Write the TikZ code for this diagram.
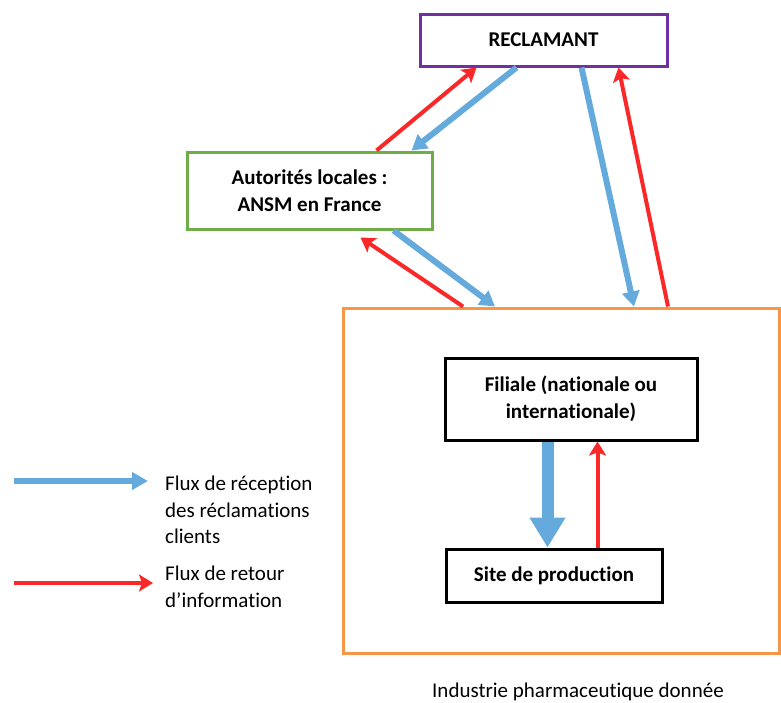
\documentclass[tikz,border=0pt]{standalone}
\usepackage{fontspec}
\setmainfont[Ligatures={NoCommon}]{Carlito}
\usetikzlibrary{arrows.meta}
\definecolor{cpurple}{RGB}{112,48,160}
\definecolor{cgreen}{RGB}{112,173,71}
\definecolor{corange}{RGB}{247,150,70}
\definecolor{cblue}{RGB}{100,170,220}
\definecolor{cred}{RGB}{250,40,40}
\begin{document}
\begin{tikzpicture}[x=1pt,y=-1pt,
  box/.style={draw,line width=3pt,inner sep=0pt,align=center,font=\fontsize{21}{27}\selectfont\bfseries},
  bluearrow/.style={cblue,line width=6pt,-{Triangle[width=17pt,length=15pt]}},
  redarrow/.style={cred,line width=4pt,-{Stealth[width=17pt,length=14pt,inset=3pt]}},
  txt/.style={inner sep=0pt,anchor=base west,font=\fontsize{21}{27}\selectfont}]
\useasboundingbox (0,0) rectangle (781,702);
\node[box,draw=cpurple,minimum width=247pt,minimum height=52pt] (recl) at (543.5,40) {RECLAMANT};
\node[box,draw=cgreen,minimum width=245pt,minimum height=77pt] (auto) at (309.5,190.5) {Autorités locales :\\ANSM en France};
\node[box,draw=corange,minimum width=436pt,minimum height=345pt] (ind) at (561.5,480.5) {};
\node[box,draw=black,minimum width=252pt,minimum height=82pt] (fil) at (571,399) {Filiale (nationale ou\\internationale)};
\node[box,draw=black,minimum width=216pt,minimum height=53pt] (site) at (554,575.5) {Site de production};
% connector end points
\coordinate (a1) at ([xshift=191pt]auto.north west);
\coordinate (r1) at ([xshift=58pt]recl.south west);
\coordinate (r2) at ([xshift=98pt]recl.south west);
\coordinate (a2) at ([xshift=226pt]auto.north west);
\coordinate (i1) at ([xshift=121pt]ind.north west);
\coordinate (a3) at ([xshift=175pt,yshift=-7pt]auto.south west);
\coordinate (a4) at ([xshift=208pt]auto.south west);
\coordinate (i2) at ([xshift=153pt]ind.north west);
\coordinate (r3) at ([xshift=163pt]recl.south west);
\coordinate (i3) at ([xshift=292pt]ind.north west);
\coordinate (i4) at ([xshift=326pt]ind.north west);
\coordinate (r4) at ([xshift=200pt]recl.south west);
\coordinate (f1) at ([xshift=104pt]fil.south west);
\coordinate (s1) at ([xshift=103pt]site.north west);
\coordinate (s2) at ([xshift=153pt]site.north west);
\coordinate (f2) at ([xshift=154pt]fil.south west);
\draw[redarrow] (a1) -- (r1);
\draw[bluearrow] (r2) -- (a2);
\draw[redarrow] (i1) -- (a3);
\draw[bluearrow] (a4) -- (i2);
\draw[bluearrow] (r3) -- (i3);
\draw[redarrow] (i4) -- (r4);
\draw[cblue,line width=12pt,-{Triangle[width=34pt,length=30pt]}] (f1) -- (s1);
\draw[redarrow] (s2) -- (f2);
% legend
\coordinate (lb1) at (14,481);
\coordinate (lb2) at (148,481);
\coordinate (lr1) at (14,583);
\coordinate (lr2) at (153,583);
\draw[bluearrow,-{Triangle[width=17pt,length=16pt]}] (lb1) -- (lb2);
\draw[redarrow] (lr1) -- (lr2);
\node[txt] (l1) at (165,490) {Flux de réception};
\node[txt] (l2) at (165,517) {des réclamations};
\node[txt] (l3) at (165,543) {clients};
\node[txt] (l4) at (165,580) {Flux de retour};
\node[txt] (l5) at (165,607) {d’information};
\node[txt] (cap) at (432,697) {Industrie pharmaceutique donnée};
\end{tikzpicture}
\end{document}
